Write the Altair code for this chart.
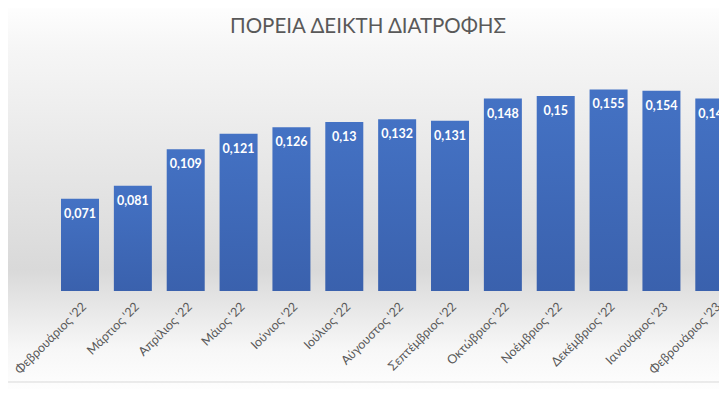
import altair as alt
import pandas as pd

months = ["Φεβρουάριος '22", "Μάρτιος '22", "Απρίλιος '22", "Μάιος '22", "Ιούνιος '22",
          "Ιούλιος '22", "Αύγουστος '22", "Σεπτέμβριος '22", "Οκτώβριος '22",
          "Νοέμβριος '22", "Δεκέμβριος '22", "Ιανουάριος '23", "Φεβρουάριος '23"]
values = [0.071, 0.081, 0.109, 0.121, 0.126, 0.13, 0.132, 0.131, 0.148, 0.15, 0.155, 0.154, 0.148]
title_text = "ΠΟΡΕΙΑ ΔΕΙΚΤΗ ΔΙΑΤΡΟΦΗΣ"

df = pd.DataFrame({"month": months, "value": values})
df["label"] = [str(v).replace(".", ",") for v in values]

W, H = 711, 233

xscale = alt.Scale(domain=months, range=[53, 725.3], paddingInner=0.281, paddingOuter=0)
yscale = alt.Scale(domain=[0, 0.1792], nice=False, zero=True)

one = alt.Data(values=[{"a": 1}])

bg = alt.Chart(one).mark_rect(
    color=alt.Gradient(
        gradient="linear",
        stops=[
            alt.GradientStop(color="#ffffff", offset=0),
            alt.GradientStop(color="#f6f6f6", offset=0.12),
            alt.GradientStop(color="#d9d9d9", offset=0.68),
            alt.GradientStop(color="#f7f7f7", offset=0.88),
            alt.GradientStop(color="#ffffff", offset=1),
        ],
        x1=0, x2=0, y1=0, y2=1,
    )
).encode(x=alt.value(-8), x2=alt.value(719), y=alt.value(-58), y2=alt.value(339))

grid = alt.Chart(one).mark_rule(color="#d9d9d9", strokeWidth=1).encode(
    x=alt.value(-8), x2=alt.value(719), y=alt.value(324)
)

title = alt.Chart(one).mark_text(
    text=title_text, font="Lato", fontSize=20.5, color="#595959",
    align="center", baseline="alphabetic"
).encode(x=alt.value(360), y=alt.value(-25))

bars = alt.Chart(df).mark_bar(
    color=alt.Gradient(
        gradient="linear",
        stops=[
            alt.GradientStop(color="#4472c4", offset=0),
            alt.GradientStop(color="#3a61ad", offset=1),
        ],
        x1=0, x2=0, y1=0, y2=1,
    )
).encode(
    x=alt.X("month:N", sort=months, scale=xscale,
            axis=alt.Axis(title=None, domain=False, ticks=False, labelAngle=-45,
                          labelFontSize=12.5, labelColor="#595959", labelFont="Lato",
                          labelPadding=9, labelOverlap=False, labelBound=False,
                          zindex=2)),
    y=alt.Y("value:Q", scale=yscale, axis=None),
)

labels = alt.Chart(df).mark_text(
    color="white", font="Lato", fontWeight="bold", fontSize=12.5,
    baseline="middle", dy=15
).encode(
    x=alt.X("month:N", sort=months, scale=xscale),
    y=alt.Y("value:Q", scale=yscale),
    text="label:N",
)

chart = alt.layer(bg, grid, title, bars, labels).properties(
    width=W, height=H,
    autosize=alt.AutoSizeParams(type="none"),
    padding={"left": 0, "top": 50, "right": 0, "bottom": 98},
).configure_view(stroke=None).configure(background="white")

chart.save("out.html", embed_options={"renderer": "svg", "actions": False})
